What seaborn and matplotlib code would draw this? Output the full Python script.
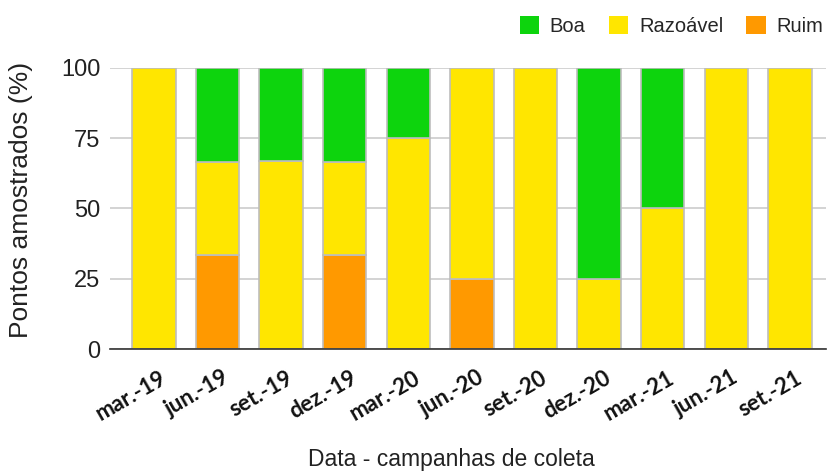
import matplotlib
matplotlib.use("Agg")
import matplotlib.pyplot as plt
from matplotlib.patches import Patch
import matplotlib.transforms as mtransforms
import numpy as np
import pandas as pd
import seaborn as sns

# Campaign dates and share of sampled points in each quality class (%)
campanhas = ["mar.-19", "jun.-19", "set.-19", "dez.-19", "mar.-20", "jun.-20",
             "set.-20", "dez.-20", "mar.-21", "jun.-21", "set.-21"]
ruim = [0, 33.3, 0, 33.3, 0, 25, 0, 0, 0, 0, 0]
razoavel = [100, 33.3, 66.7, 33.3, 75, 75, 100, 25, 50, 100, 100]
boa = [0, 33.4, 33.3, 33.4, 25, 0, 0, 75, 50, 0, 0]
yticks = [0, 25, 50, 75, 100]

cores = {"Boa": "#0dd40d", "Razoável": "#ffe600", "Ruim": "#ff9900"}

df = pd.DataFrame({"campanha": campanhas, "Ruim": ruim,
                   "Razoável": razoavel, "Boa": boa})
df["base_raz"] = df["Ruim"]
df["base_boa"] = df["Ruim"] + df["Razoável"]

sns.set_theme(style="white")
plt.rcParams["font.family"] = ["Liberation Sans", "DejaVu Sans"]

fig = plt.figure(figsize=(8.27, 4.71), dpi=100)
ax = fig.add_axes([0.133, 0.259, 0.866, 0.597])

ax.yaxis.grid(True, color="#cccccc", linewidth=1.2, zorder=0)
ax.set_axisbelow(True)

largura = 0.68
borda = dict(edgecolor="#bdbdbd", linewidth=1.2)
sns.barplot(data=df, x="campanha", y="Ruim", color=cores["Ruim"],
            width=largura, saturation=1, ax=ax, **borda)
sns.barplot(data=df, x="campanha", y="Razoável", bottom=df["base_raz"],
            color=cores["Razoável"], width=largura, saturation=1, ax=ax, **borda)
sns.barplot(data=df, x="campanha", y="Boa", bottom=df["base_boa"],
            color=cores["Boa"], width=largura, saturation=1, ax=ax, **borda)

# hide zero-height segments so their outlines do not show
for p in ax.patches:
    if p.get_height() == 0:
        p.set_visible(False)

ax.set_xlim(-0.69, 10.57)
ax.set_ylim(0, 100)
ax.set_yticks(yticks)
ax.set_yticklabels([str(v) for v in yticks], fontsize=17, color="#222222")
ax.tick_params(axis="y", length=0, pad=7)
ax.tick_params(axis="x", length=0, pad=8)

for s in ["top", "right", "left"]:
    ax.spines[s].set_visible(False)
ax.spines["bottom"].set_color("#333333")
ax.spines["bottom"].set_linewidth(1.2)

ax.set_xticks(range(len(campanhas)))
ax.set_xticklabels(campanhas, rotation=30, ha="right", rotation_mode="anchor",
                   fontsize=16, fontweight="bold", family=["Lato", "DejaVu Sans"],
                   color="#111111")
for lab in ax.get_xticklabels():
    lab.set_transform(lab.get_transform() +
                      mtransforms.ScaledTranslation(0.05, -0.07, fig.dpi_scale_trans))

ax.set_xlabel("")
ax.set_ylabel("Pontos amostrados (%)", fontsize=19, color="#222222")
ax.yaxis.set_label_coords(-0.108, 0.53)
fig.text(0.546, 0.01, "Data - campanhas de coleta", ha="center", va="baseline",
         fontsize=16.5, color="#222222")

handles = [Patch(facecolor=cores[k], edgecolor="none") for k in ["Boa", "Razoável", "Ruim"]]
fig.legend(handles, ["Boa", "Razoável", "Ruim"], loc="upper right",
           bbox_to_anchor=(1.008, 0.987), ncol=3, frameon=False, fontsize=14.5,
           handlelength=0.95, handleheight=0.95, handletextpad=0.55, columnspacing=1.15,
           borderaxespad=0.0, borderpad=0.5)

fig.savefig("out.png", dpi=100, facecolor="white")
